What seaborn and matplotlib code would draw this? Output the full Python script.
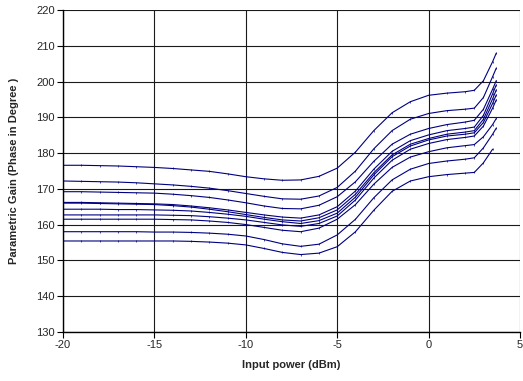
import numpy as np
import pandas as pd
import matplotlib
matplotlib.use("Agg")
import matplotlib.pyplot as plt
import seaborn as sns

# Input power (dBm)
x_dbm = [-20, -19, -18, -17, -16, -15, -14, -13, -12, -11, -10, -9, -8, -7, -6,
         -5, -4, -3, -2, -1, 0, 1, 2, 2.5, 3, 3.5, 3.7]

c1 = [176.6, 176.6, 176.5, 176.4, 176.2, 176.0, 175.7, 175.3, 174.9, 174.2, 173.4, 172.8, 172.4, 172.5, 173.5,
      175.8, 180.3, 186.3, 191.3, 194.4, 196.2, 196.8, 197.2, 197.6, 200.3, 205.6, 208.0]
c2 = [172.2, 172.1, 172.0, 171.9, 171.7, 171.4, 171.1, 170.7, 170.2, 169.5, 168.7, 167.9, 167.2, 167.1, 168.0,
      170.4, 175.0, 181.2, 186.3, 189.5, 191.1, 191.9, 192.3, 192.6, 195.6, 201.4, 203.8]
c3 = [169.2, 169.2, 169.1, 169.0, 168.9, 168.8, 168.5, 168.1, 167.6, 166.9, 166.1, 165.2, 164.5, 164.4, 165.4,
      167.8, 172.0, 177.7, 182.5, 185.3, 186.9, 188.0, 188.7, 189.2, 192.3, 197.9, 200.3]
c4 = [166.2, 166.2, 166.1, 166.0, 165.9, 165.8, 165.6, 165.2, 164.7, 164.1, 163.4, 162.7, 162.1, 161.8, 162.7,
      165.0, 169.4, 175.5, 180.5, 183.5, 185.1, 186.3, 186.9, 187.3, 190.6, 196.6, 199.1]
c5 = [166.0, 166.0, 165.9, 165.8, 165.7, 165.6, 165.3, 164.9, 164.3, 163.6, 162.8, 162.0, 161.3, 161.0, 161.9,
      164.1, 168.5, 174.5, 179.5, 182.5, 184.1, 185.3, 185.9, 186.3, 189.5, 195.2, 197.7]
c6 = [164.3, 164.3, 164.3, 164.2, 164.2, 164.1, 164.0, 163.8, 163.4, 162.9, 162.3, 161.5, 160.8, 160.3, 161.1,
      163.2, 167.7, 173.9, 179.0, 182.0, 183.7, 184.8, 185.3, 185.7, 188.6, 193.9, 196.3]
c7 = [162.7, 162.7, 162.7, 162.7, 162.7, 162.7, 162.6, 162.5, 162.2, 161.8, 161.3, 160.6, 159.9, 159.5, 160.3,
      162.4, 166.9, 173.0, 178.0, 181.1, 182.7, 183.8, 184.4, 184.8, 187.6, 192.6, 194.9]
c8 = [161.5, 161.5, 161.5, 161.5, 161.5, 161.5, 161.4, 161.3, 161.0, 160.6, 160.0, 159.2, 158.4, 158.0, 159.0,
      161.5, 165.6, 171.3, 176.0, 178.9, 180.4, 181.5, 182.1, 182.4, 184.6, 188.0, 189.7]
c9 = [158.0, 158.0, 158.0, 158.0, 158.0, 157.9, 157.9, 157.8, 157.6, 157.3, 156.8, 155.8, 154.6, 153.9, 154.5,
      157.1, 161.5, 167.5, 172.5, 175.5, 177.1, 177.8, 178.3, 178.7, 181.5, 185.3, 187.0]
c10 = [155.4, 155.4, 155.4, 155.4, 155.4, 155.4, 155.4, 155.3, 155.1, 154.8, 154.3, 153.3, 152.2, 151.6, 152.0,
       153.8, 158.0, 164.0, 169.3, 172.2, 173.4, 174.0, 174.4, 174.6, 177.3, 181.1, None]

series = [c1, c2, c3, c4, c5, c6, c7, c8, c9, c10]

x_ticks = [-20, -15, -10, -5, 0, 5]
y_ticks = [130, 140, 150, 160, 170, 180, 190, 200, 210, 220]

rows = []
for i, s in enumerate(series):
    for xv, yv in zip(x_dbm, s):
        if yv is not None:
            rows.append({"x": xv, "y": yv, "curve": f"c{i+1}"})
df = pd.DataFrame(rows)

sns.set_style("white")
plt.rcParams["font.family"] = ["Liberation Sans", "DejaVu Sans"]

fig = plt.figure(figsize=(5.23, 3.81), dpi=100)
ax = fig.add_axes([0.1205, 0.1294, 0.8738, 0.8436])

sns.lineplot(data=df, x="x", y="y", units="curve", estimator=None, color="#000080",
             linewidth=0.8, marker="|", markersize=2, markeredgewidth=0.5,
             markeredgecolor="#000080", legend=False, ax=ax, sort=True)

ax.set_xlim(-20, 5)
ax.set_ylim(130, 220)
ax.set_xticks(x_ticks)
ax.set_yticks(y_ticks)
ax.set_xticklabels([str(t) for t in x_ticks])
ax.set_yticklabels([str(t) for t in y_ticks])
ax.grid(True, color="#1a1a1a", linewidth=0.8)
ax.set_axisbelow(True)
for side in ["top", "right"]:
    ax.spines[side].set_visible(False)
for side in ["left", "bottom"]:
    ax.spines[side].set_color("black")
    ax.spines[side].set_linewidth(1.0)
ax.tick_params(axis="both", which="major", direction="out", length=4, width=0.8,
               color="black", labelsize=8, pad=2, left=True, bottom=True)
ax.set_xlabel("Input power (dBm)", fontsize=8, fontweight="bold", labelpad=7)
ax.set_ylabel("Parametric Gain (Phase in Degree )", fontsize=8, fontweight="bold", labelpad=12)

fig.savefig("out.png", dpi=100)
